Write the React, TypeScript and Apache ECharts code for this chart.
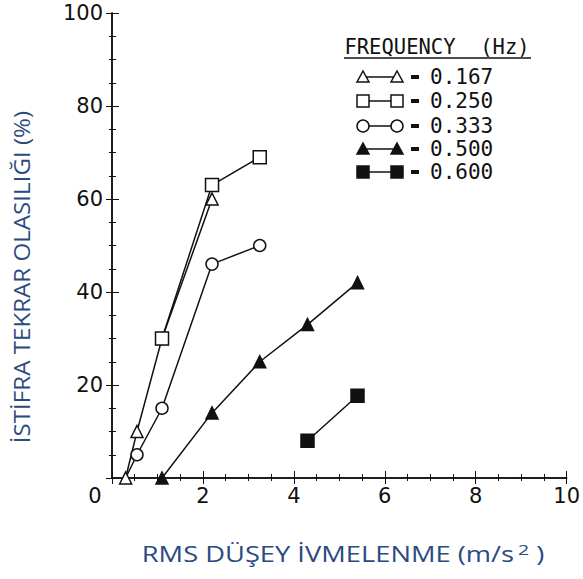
import React, { useEffect, useRef } from 'react';
import * as echarts from 'echarts';

const freqLabels = ['0.167', '0.250', '0.333', '0.500', '0.600'];
const legendTitle = 'FREQUENCY  (Hz)';
const yTitle = 'İSTİFRA TEKRAR OLASILIĞI (%)';
const xTitleMain = 'RMS DÜŞEY İVMELENME (m/s';

const f167x = [0.3, 0.55, 1.1, 2.2];
const f167y = [0, 10, 30, 60];
const f250x = [1.1, 2.2, 3.25];
const f250y = [30, 63, 69];
const f333x = [0.3, 0.55, 1.1, 2.2, 3.25];
const f333y = [0, 5, 15, 46, 50];
const f500x = [1.1, 2.2, 3.25, 4.3, 5.4];
const f500y = [0, 14, 25, 33, 42];
const f600x = [4.3, 5.4];
const f600y = [8, 17.7];

const xTicks = [0, 2, 4, 6, 8, 10];
const yTicks = [0, 20, 40, 60, 80, 100];

const pairs = (xs: number[], ys: number[]) => xs.map((x, i) => [x, ys[i]]);

const LINE = '#111';
const TITLE_BLUE = '#2b4a80';

export default function App() {
  const ref = useRef<HTMLDivElement>(null);
  useEffect(() => {
    if (!ref.current) return;
    const chart = echarts.init(ref.current, null, { renderer: 'svg' });
    const tickFont = { fontFamily: 'DejaVu Sans', fontSize: 21, color: '#111' };

    const mkSeries = (name: string, data: any[], symbol: string, filled: boolean, size: number) => ({
      name,
      type: 'line',
      data,
      symbol,
      symbolSize: size,
      showSymbol: true,
      lineStyle: { color: LINE, width: 1.5 },
      itemStyle: { color: filled ? LINE : '#fff', borderColor: LINE, borderWidth: 1.5 },
      emphasis: { disabled: true },
      z: 3,
    });

    const circleData: any[] = pairs(f333x, f333y).map((p, i) =>
      i === 0 ? { value: p, symbol: 'none' } : p
    );

    // Legend graphics
    const rowY = [77, 101, 126, 149, 172];
    const legendShapes: any[] = [];
    const markerAt = (kind: string, filled: boolean, cx: number, cy: number) => {
      const style = { fill: filled ? LINE : '#fff', stroke: LINE, lineWidth: 1.5 };
      if (kind === 'triangle') {
        return { type: 'polygon', shape: { points: [[cx, cy - 6], [cx + 6, cy + 5], [cx - 6, cy + 5]] }, style, z: 10 };
      }
      if (kind === 'rect') {
        return { type: 'rect', shape: { x: cx - 6, y: cy - 6, width: 12, height: 12 }, style, z: 10 };
      }
      return { type: 'circle', shape: { cx, cy, r: 6 }, style, z: 10 };
    };
    const kinds: [string, boolean][] = [
      ['triangle', false],
      ['rect', false],
      ['circle', false],
      ['triangle', true],
      ['rect', true],
    ];
    kinds.forEach(([k, f], i) => {
      const cy = rowY[i];
      legendShapes.push({ type: 'line', shape: { x1: 363, y1: cy, x2: 397, y2: cy }, style: { stroke: LINE, lineWidth: 1.5 }, z: 9 });
      legendShapes.push(markerAt(k, f, 363, cy));
      legendShapes.push(markerAt(k, f, 397, cy));
      legendShapes.push({ type: 'rect', shape: { x: 411, y: cy - 2, width: 8, height: 4 }, style: { fill: LINE }, z: 10 });
      legendShapes.push({
        type: 'text', x: 430, y: cy,
        style: { text: freqLabels[i], fontFamily: 'DejaVu Sans Mono', fontSize: 21, fill: '#111', align: 'left', verticalAlign: 'middle' },
        z: 10,
      });
    });
    legendShapes.push({
      type: 'text', x: 437, y: 47,
      style: { text: legendTitle, fontFamily: 'DejaVu Sans Mono', fontSize: 20.5, fill: '#111', align: 'center', verticalAlign: 'middle' },
      z: 10,
    });
    legendShapes.push({ type: 'line', shape: { x1: 344, y1: 58, x2: 531, y2: 58 }, style: { stroke: LINE, lineWidth: 1.5 }, z: 10 });

    const option: any = {
      animation: false,
      backgroundColor: '#fff',
      grid: { left: 112, top: 13, right: 15, bottom: 101, containLabel: false },
      xAxis: [
        {
          type: 'value', min: 0, max: 10, interval: 2,
          axisLine: { show: true, lineStyle: { color: LINE, width: 1.5 } },
          axisTick: { show: true, inside: true, length: 7, lineStyle: { color: LINE } },
          minorTick: { show: true, splitNumber: 4, length: 4, lineStyle: { color: LINE } },
          splitLine: { show: false },
          axisLabel: {
            ...tickFont, margin: 7,
            formatter: (v: number) => (v === 0 ? '{z|0}' : xTicks.includes(v) ? String(v) : ''),
            rich: { z: { ...tickFont, padding: [0, 34, 0, 0] } },
          },
        },
        {
          type: 'value', min: 0, max: 10, interval: 2, position: 'top',
          axisLine: { show: true, lineStyle: { color: LINE, width: 1.5 } },
          axisTick: { show: true, inside: true, length: 6, lineStyle: { color: LINE } },
          minorTick: { show: true, splitNumber: 4, length: 3, lineStyle: { color: LINE } },
          splitLine: { show: false },
          axisLabel: { show: false },
        },
      ],
      yAxis: [
        {
          type: 'value', min: 0, max: 100, interval: 20,
          axisLine: { show: true, lineStyle: { color: LINE, width: 1.5 } },
          axisTick: { show: true, inside: true, length: 7, lineStyle: { color: LINE } },
          minorTick: { show: true, splitNumber: 4, length: 4, lineStyle: { color: LINE } },
          splitLine: { show: false },
          axisLabel: {
            ...tickFont, margin: 9,
            formatter: (v: number) => (v === 0 ? '' : yTicks.includes(v) ? String(v) : ''),
          },
        },
        {
          type: 'value', min: 0, max: 100, interval: 20, position: 'right',
          axisLine: { show: true, lineStyle: { color: LINE, width: 1.5 } },
          axisTick: { show: true, inside: true, length: 6, lineStyle: { color: LINE } },
          minorTick: { show: true, splitNumber: 4, length: 3, lineStyle: { color: LINE } },
          splitLine: { show: false },
          axisLabel: { show: false },
        },
      ],
      series: [
        mkSeries('0.167', pairs(f167x, f167y), 'triangle', false, 12),
        mkSeries('0.250', pairs(f250x, f250y), 'rect', false, 13),
        mkSeries('0.333', circleData, 'circle', false, 12),
        mkSeries('0.500', pairs(f500x, f500y), 'triangle', true, 12),
        mkSeries('0.600', pairs(f600x, f600y), 'rect', true, 13),
      ],
      graphic: [
        ...legendShapes,
        {
          type: 'text', x: 22, y: 277, rotation: Math.PI / 2, scaleX: 1.15,
          style: { text: yTitle, fontFamily: 'Open Sans', fontSize: 21, fill: TITLE_BLUE, align: 'center', verticalAlign: 'middle' },
        },
        {
          type: 'text', x: 343, y: 554, scaleX: 1.3,
          style: {
            text: xTitleMain + '{sup|2} )',
            fontFamily: 'Open Sans', fontSize: 21, fill: TITLE_BLUE, align: 'center', verticalAlign: 'middle',
            rich: { sup: { fontFamily: 'Open Sans', fontSize: 15, fill: TITLE_BLUE, verticalAlign: 'top', padding: [0, 0, 11, 3] } },
          },
        },
      ],
    };
    chart.setOption(option);
    return () => chart.dispose();
  }, []);
  return <div ref={ref} style={{ width: 583, height: 579, position: 'absolute', left: 0, top: 0 }} />;
}
